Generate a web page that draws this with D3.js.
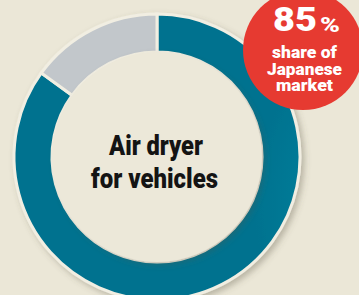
<!DOCTYPE html>
<html>
<head>
<meta charset="utf-8">
<script src="https://cdn.jsdelivr.net/npm/d3@7"></script>
<style>
  html, body { margin: 0; padding: 0; background: #ebe7d7; }
  svg { display: block; }
  text { font-family: Roboto, "Liberation Sans", sans-serif; font-weight: 900; }
</style>
</head>
<body>
<div id="chart"></div>
<script>
const categories = ['Nabtesco', 'Others'];
const shares = [85, 15];
const centerLines = ['Air dryer', 'for vehicles'];
const badgeValue = '85';
const badgeLines = ['share of', 'Japanese', 'market'];

const width = 359;
const height = 295;
const cx = 157, cy = 157;
const outerR = 143, innerR = 105;

const svg = d3.select('#chart')
  .append('svg')
  .attr('width', width)
  .attr('height', height);

const defs = svg.append('defs');

const grad = defs.append('radialGradient')
  .attr('id', 'teal')
  .attr('gradientUnits', 'userSpaceOnUse')
  .attr('cx', cx + 150).attr('cy', cy - 110).attr('r', 210);
grad.append('stop').attr('offset', '0%').attr('stop-color', '#55a6bb');
grad.append('stop').attr('offset', '40%').attr('stop-color', '#128ba5');
grad.append('stop').attr('offset', '100%').attr('stop-color', '#00728f');

const shadow = defs.append('filter').attr('id', 'shadow')
  .attr('x', '-20%').attr('y', '-20%').attr('width', '140%').attr('height', '140%');
shadow.append('feDropShadow')
  .attr('dx', 3).attr('dy', 3).attr('stdDeviation', 3)
  .attr('flood-color', '#5a5440').attr('flood-opacity', 0.35);

const inset = defs.append('filter').attr('id', 'inset')
  .attr('x', '-20%').attr('y', '-20%').attr('width', '140%').attr('height', '140%');
inset.append('feDropShadow')
  .attr('dx', 3).attr('dy', 3).attr('stdDeviation', 3)
  .attr('flood-color', '#5a5440').attr('flood-opacity', 0.3);

const colors = d3.scaleOrdinal()
  .domain(categories)
  .range(['url(#teal)', '#c2c7cb']);

const pie = d3.pie().sort(null).value(d => d.value);
const arc = d3.arc().innerRadius(innerR).outerRadius(outerR);

const data = categories.map((c, i) => ({ name: c, value: shares[i] }));

const g = svg.append('g').attr('transform', `translate(${cx},${cy})`);

const ring = g.append('g').attr('filter', 'url(#shadow)');
ring.selectAll('path')
  .data(pie(data))
  .enter()
  .append('path')
  .attr('d', arc)
  .attr('fill', d => colors(d.data.name))
  .attr('stroke', '#f1eee2')
  .attr('stroke-width', 3);

// inner shading along the hole edge
g.append('circle')
  .attr('r', innerR)
  .attr('fill', '#ece8d9')
  .attr('filter', 'url(#inset)');
g.append('circle')
  .attr('r', innerR - 1)
  .attr('fill', '#ece8d9');

const centerWidths = [94, 127];
g.selectAll('text.center')
  .data(centerLines)
  .enter()
  .append('text')
  .attr('class', 'center')
  .attr('text-anchor', 'middle')
  .attr('x', (d, i) => i === 0 ? -1 : -2.5)
  .attr('y', (d, i) => -2 + i * 33)
  .attr('font-size', 27)
  .attr('textLength', (d, i) => centerWidths[i])
  .attr('lengthAdjust', 'spacingAndGlyphs')
  .attr('fill', '#141414')
  .text(d => d);

// red badge
const badge = svg.append('g').attr('transform', 'translate(303,50)');
badge.append('circle')
  .attr('r', 60)
  .attr('fill', '#e63a31');

badge.append('text')
  .attr('x', -30).attr('y', -19)
  .attr('font-size', 33)
  .attr('textLength', 44)
  .attr('lengthAdjust', 'spacingAndGlyphs')
  .attr('fill', '#fff')
  .text(badgeValue);
badge.append('text')
  .attr('x', 17).attr('y', -18)
  .attr('font-size', 20)
  .attr('textLength', 20)
  .attr('lengthAdjust', 'spacingAndGlyphs')
  .attr('fill', '#fff')
  .text('%');

const subWidths = [65, 75, 57];
badge.selectAll('text.sub')
  .data(badgeLines)
  .enter()
  .append('text')
  .attr('class', 'sub')
  .attr('text-anchor', 'middle')
  .attr('x', 1.5)
  .attr('y', (d, i) => 8 + i * 16.5)
  .attr('font-size', 17)
  .attr('textLength', (d, i) => subWidths[i])
  .attr('lengthAdjust', 'spacingAndGlyphs')
  .attr('fill', '#fff')
  .text(d => d);
</script>
</body>
</html>
